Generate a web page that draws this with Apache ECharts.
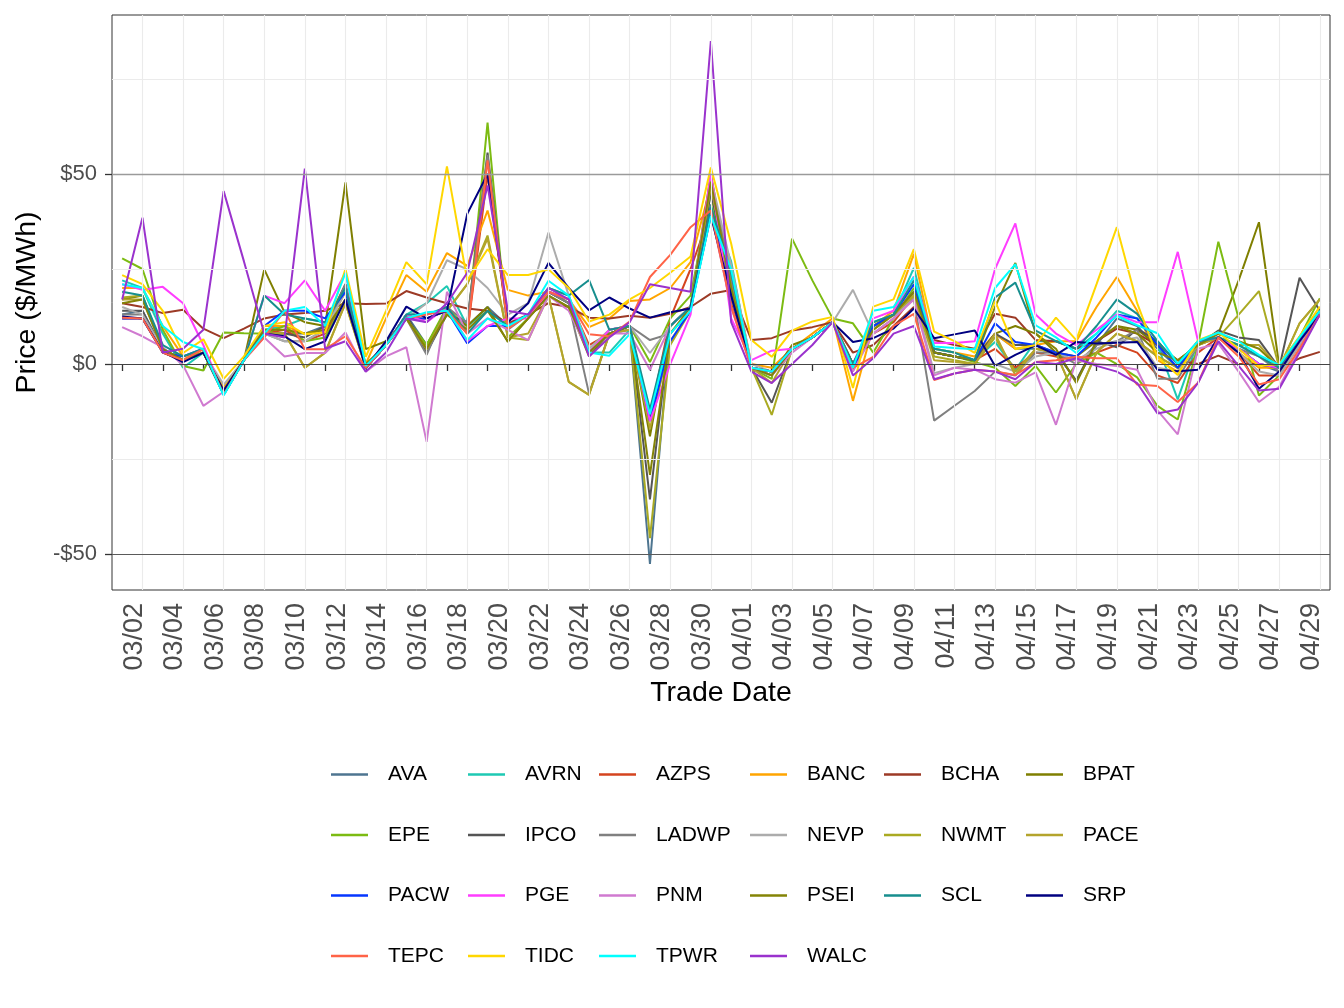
<!DOCTYPE html>
<html>
<head>
<meta charset="utf-8">
<title>Price by trade date</title>
<script src="https://cdn.jsdelivr.net/npm/echarts@6/dist/echarts.min.js"></script>
<style>
  html, body { margin: 0; padding: 0; background: #fff; }
  #chart { width: 1344px; height: 1008px; }
</style>
</head>
<body>
<div id="chart"></div>
<script>
// trade dates, one per day
const dates = [
  '03/02','03/03','03/04','03/05','03/06','03/07','03/08','03/09','03/10','03/11',
  '03/12','03/13','03/14','03/15','03/16','03/17','03/18','03/19','03/20','03/21',
  '03/22','03/23','03/24','03/25','03/26','03/27','03/28','03/29','03/30','03/31',
  '04/01','04/02','04/03','04/04','04/05','04/06','04/07','04/08','04/09','04/10',
  '04/11','04/12','04/13','04/14','04/15','04/16','04/17','04/18','04/19','04/20',
  '04/21','04/22','04/23','04/24','04/25','04/26','04/27','04/28','04/29','04/30'
];
const yTicks = [-50, 0, 50];
const yMinor = [-25, 25, 75];

// $/MWh by balancing authority
const AVA  = [13,14,4,1,3,-8,1,8,8,8, 10,19,-1,5,13,5,14,10,15,10, 13,19,16,3,8,9,-52.6,10,15,42, 20,-1,-3,4,7,11,0,10,13,19, 3,2,1,8,4,4,3,-4.4,5,12, 10,4,-1,6,7,4,0,-2,6,14];
const AVRN = [22,20,8,-1,3,-8,1,9,10,12, 11,20,-1,5,13,16,20.5,10,14,10, 13,20,18,3,3,9,-14,10,15,41.4, 27,-1,-2,4,7,11,0,11,13,25.3, 4,3,1,5.8,-1.5,6,6,4,8,14, 12,5,-9.3,6,7,5,2,-1,6,14];
const AZPS = [12,12,3,1,4,-8,1,8,9,6, 8,17,-1,5,12,12,14,8,50,10, 13,19,17,5,8,10,-14,12,25,40, 16,-1,-2,4,7,11,-1,8,11,18, 3,2,1,4,-1,3,2,1,3,5, 3,-3,-5,3,7,3,-3,-3,5,13];
const BANC = [20,20,10,2,3,-6,1,10,10,8, 9,19,0,12,23.4,19,29.2,25.8,40.4,19.5, 18,19,17,9.7,12,16.6,17,20,26.8,47, 25,0,-1,4,8,12,-9.7,10,14,29, 4,3,2,8,4,5,6,6,15,22.9, 14,1,-2,6,7,3,-1,-1,6,14];
const BCHA = [16,15,13.4,14.3,9.3,6.8,9.3,12,13,13.4, 14,16,15.8,15.9,19.2,17.5,16,14.6,14,10.7, 13,16,15,12.2,12,12.7,12.2,13.2,15,18.5, 19.5,6.3,6.8,8.8,9.7,11,3,5,10,15, 6.3,5,4,13.2,12.2,6.3,6,4,6,9.3, 8,5,1,0,2.2,0,0,-1,1.5,3.2];
const BPAT = [17,18,4,1,3,-7,1,24.9,13.6,11, 10,47.8,3.9,6,12,5,14,10,15,5.8, 12,18,15,2,8,10,-19,10,15,50, 20,-1,-3,5,7,11,0,10,13,18, 3,2,1,8,10,8,3,2,6,10, 9,5,1,5,8,22,37.3,-0.5,7,14];
const EPE  = [27.8,25,9,-0.5,-1.7,8.3,8.1,8,10,6, 7,17,-1,5,12,5,15,9,63.5,7, 12,19,16,3,8,10,0.5,12,18,45, 18,-1,-3.9,33,22,12,10.7,3,12,20, 3,2,0.5,-1,-5.8,-0.5,-7.5,0,3,0, -3.5,-11,-14.6,5,32.2,12,-8.3,-3,7,17.3];
const IPCO = [14,14,3,1,3,-8,1,8,8,7, 10,21,-1,5,13,3,13,11,55.6,10, 13,19,16,3,9,10,-35.6,10,15,45, 22,-1,-10.2,4,7,11,0,10,13,19, 3,2,1,8,5,5,3,-4.4,6,4.4, 9.3,6,0,5,8.8,7,6.3,-1,22.7,14];
const LADWP = [13,13,4,1,3,-7,1,8,6,6, 9,21,-1,5,12,2.4,15,10.7,55,9, 13,19,16,-7.8,8,10,6.3,8,14,49, 22,-1,-3,4,7,11,0,10,13,17, -14.9,-11,-7.1,-2,-3,3,3,0,5,6, 9,-3.9,-3.9,5,7,4,2,-2,6,14];
const NEVP = [15,13,4,1,3,-5.4,1,8,6,6, 9,19,-1,5,12,16,27.3,24.9,20,13, 16,34.6,18,4,9,10,2.9,10,15,49, 26,0,-2,4,7,11,19.5,8,12,18, -2.4,-1,0,0,-2,2,3,1,4,6, 7,-1,-2,5,7,3,-2,-3,5,14];
const NWMT = [17.5,18,4,1,3,-7,1,8,8,-1, 3,16,-1,5,12,3.9,14,21,33.8,7, 6.3,18,-4.7,-8.1,8,9,-45.8,5,14,47, 20,-1,-13.4,4,7,11,0,9,13,18, 2,1,0,7,-2,4,3,-9.3,3,8, 6,2,-1,5,7,13,19.2,-1,10.7,17];
const PACE = [17,17,4,1,3,-7,1,8,8,-1, 3,16,-1,5,12,3.9,14,21,33,7, 8,18,-4.7,-8.1,8,9,-17,6,14,47, 20,-1,-5,4,7,11,0,9,13,18, 1,0.5,0,8,-3,4,3,-9.3,3,8, 6,2,-1,5,7,5,5,-1,10.7,17];
const PACW = [12,12,3,2,4,-8,1,10,14,14, 12,19,-1,5,12,12,14,5.4,10,10, 13,19,17,3,8,10,-15,6,14,41, 18,-1,-2,4,7,11,-1,10,13,21, 3,2,1,10.7,5.8,5,3,2,7,13, 12,5,-1,6,7,4,0,-1,6,13];
const PGE  = [21,19.5,20.3,16,5,-8,1,18,16,22, 14,24,-1,5,13,11,15,6,10,12, 12,19,17,3,9,10,-15,0,13,50, 12,1,3.5,4,7,11,0,12,14,23, 5.5,5.5,6,25,37,13,8,5,9,13, 11,11,29.5,6,7,4,0,-1,6,13];
const PNM  = [9.7,7.3,4.4,-0.3,-11,-7.3,1,7,2,2.9, 2.9,8.3,-2,2,4.4,-20.5,19,8,12,9, 6.3,18,14,3,8,8,-1.5,10,15,40, 15,-1,-3,3,7,11,-2,8,12,17, -3,-1,-1.5,-4,-4.9,-2.2,-16,1,0,-0.5, -1.5,-12.2,-18.5,4,5.4,-2,-10,-6,4,13];
const PSEI = [16,17,4,1,3,-7,1,9,9,8, 9,17,0,5,12,4,13,9,14,6, 12,18,15,3,8,10,-29.2,8,15,48, 20,-1,-3,4,7,11,0,9,13,19, 3,2,1,15,26.6,8,4,-5,6,10, 8,3,1,5,8,6,4,-1,7,14];
const SCL  = [19,18,5,2,4,-8,1,18,13,12, 11,20,-1,5,13,13,15,8,14,10, 13,20,18,22.1,9,10,-12,10,15,41.4, 24,-1,-2,4,7,11,0,11,13,22, 4,3,1,17.5,21.4,8.8,6,4,10,17, 13.2,6,0,6,7,5,2,-1,7,14];
const SRP  = [12.5,12,3.2,0.5,3,-7,1,8,7.3,3.9, 6,17,-1,6,15.1,12,14,39.5,50,11, 16,26.6,20,14.1,17.5,14.6,12.2,13.6,14.6,39, 18,-1,-2,4,7,11,5.8,6.8,9.3,14.6, 6.8,7.8,8.8,-0.5,2.4,4.9,2.4,5.8,5.4,5.6, 5.8,-1.5,-1.9,-1.5,7,3,-6.5,-2,6,13];
const TEPC = [12.2,12,3,1,4,-8,1,7,14,3.9, 3.9,7.3,-1,5,12,13,14,8,53.6,9.3, 13,19,17,7.8,7.3,11.2,22.9,28.7,36,40.4, 15,-1,-2,4,7,11,-1,1.9,10,13.2, -4.2,-2.5,-1.5,-2,-2.9,0.5,1,1.9,1.5,1.5, -5.4,-5.8,-10,-4.9,7,2,-5.4,-4,4,13];
const TIDC = [23.4,21,14,2.9,6.5,-3.9,2,10,11,7.8, 8.3,25,1.9,14,26.8,21,52,22,30.2,23.4, 23.4,24.9,20,11.2,13,17,20,24,28.3,51.7, 31.7,6.3,1.9,8.8,11.2,12.4,-6.3,15.1,17,30.2, 8.5,6,2.9,16.6,3.9,5,12.2,6.3,21,36, 16,1.9,-2.9,6.3,8.3,4,-0.5,0,7.3,15.1];
const TPWR = [21,20,10,5.8,3.9,-8.3,1,8,14,15, 10,24,-0.5,5,12,13.6,14,6.3,12,10, 13,21.9,18,3,2.2,7.8,-13.2,8,14,39, 24.9,-1,-2,4,7,11,-1,14,15,22.9, 4.6,4.2,3.9,20,26.3,10.2,7,2.9,8,12.7, 10.2,8.1,0,6,8.3,6,2.4,-0.3,7,14];
const WALC = [17,38.5,3,4,9,45.5,27,8,7,51.4, 4,6,-2,3,12,11,16,24,47,14, 13,20,17,2,7,11,21,20,19,85, 11,-2,-5,0,5,11,-3,1.5,8,10, -4,-2.5,-1.5,-2,-4,0.5,0,1.5,-0.5,-2, -5,-13,-12,-5,6,-0.5,-7,-6.5,3,13];

const seriesData = {
  AVA, AVRN, AZPS, BANC, BCHA, BPAT, EPE, IPCO, LADWP, NEVP, NWMT,
  PACE, PACW, PGE, PNM, PSEI, SCL, SRP, TEPC, TIDC, TPWR, WALC
};
const colors = {
  AVA: '#4e7590', AVRN: '#1ec9b3', AZPS: '#d4441f', BANC: '#ffa500',
  BCHA: '#9c3a26', BPAT: '#7f7f00', EPE: '#7cbb12', IPCO: '#555555',
  LADWP: '#808080', NEVP: '#acacac', NWMT: '#aaaa22', PACE: '#b4a42c',
  PACW: '#0536ff', PGE: '#ff3dff', PNM: '#d07ad0', PSEI: '#848406',
  SCL: '#178e8e', SRP: '#000080', TEPC: '#ff6347', TIDC: '#ffd700',
  TPWR: '#00ffff', WALC: '#9a32cd'
};
// legend laid out in columns like the original
const legendCols = [
  { left: 326, names: ['AVA', 'EPE', 'PACW', 'TEPC'] },
  { left: 463, names: ['AVRN', 'IPCO', 'PGE', 'TIDC'] },
  { left: 594, names: ['AZPS', 'LADWP', 'PNM', 'TPWR'] },
  { left: 745, names: ['BANC', 'NEVP', 'PSEI', 'WALC'] },
  { left: 879, names: ['BCHA', 'NWMT', 'SCL'] },
  { left: 1021, names: ['BPAT', 'PACE', 'SRP'] }
];

const FONT = '"Liberation Sans", Arial, Helvetica, sans-serif';

// grid lines drawn as mark lines so they can sit at odd days / minor values
const gridLines = [];
dates.forEach((d, i) => {
  if (i % 2 === 1) gridLines.push({ xAxis: d, lineStyle: { color: '#ebebeb', width: 1.1, type: 'solid' } });
});
yMinor.forEach(v => gridLines.push({ yAxis: v, lineStyle: { color: '#ebebeb', width: 1.1, type: 'solid' } }));
yTicks.forEach(v => gridLines.push({
  yAxis: v,
  lineStyle: { color: v === 50 ? '#9a9a9a' : (v === 0 ? '#444444' : '#5a5a5a'), width: v === 50 ? 1.3 : 1, type: 'solid' }
}));

const series = [{
  name: '_grid',
  type: 'line',
  data: dates.map(() => null),
  silent: true,
  z: 1,
  markLine: {
    silent: true,
    symbol: ['none', 'none'],
    label: { show: false },
    emphasis: { disabled: true },
    data: gridLines
  }
}];
Object.keys(seriesData).forEach(name => {
  series.push({
    name: name,
    type: 'line',
    data: seriesData[name],
    showSymbol: false,
    symbol: 'none',
    color: colors[name],
    lineStyle: { width: 2, color: colors[name] },
    emphasis: { disabled: true },
    z: 2
  });
});

const chart = echarts.init(document.getElementById('chart'));
chart.setOption({
  animation: false,
  backgroundColor: '#ffffff',
  textStyle: { fontFamily: FONT },
  grid: {
    left: 112, right: 14, top: 15, bottom: 418,
    show: true, borderColor: '#333333', borderWidth: 1, backgroundColor: 'transparent'
  },
  xAxis: {
    type: 'category',
    data: dates,
    boundaryGap: true,
    name: 'Trade Date',
    nameLocation: 'middle',
    nameGap: 86,
    nameTextStyle: { fontSize: 28.5, color: '#000', fontFamily: FONT },
    axisLine: { show: false },
    axisTick: { show: true, interval: 1, alignWithLabel: true, length: 7, lineStyle: { color: '#333', width: 1.3 } },
    axisLabel: {
      interval: 1, rotate: 90, fontSize: 27, color: '#4d4d4d', margin: 13,
      verticalAlign: 'top', lineHeight: 24, fontFamily: FONT
    },
    splitLine: { show: false }
  },
  yAxis: {
    type: 'value',
    min: -59.47,
    max: 91.84,
    name: 'Price ($/MWh)',
    nameLocation: 'middle',
    nameGap: 64,
    nameTextStyle: { fontSize: 28.5, color: '#000', fontFamily: FONT },
    axisLine: { show: false },
    axisTick: { show: true, customValues: yTicks, length: 7, lineStyle: { color: '#333', width: 1.3 } },
    axisLabel: {
      customValues: yTicks, fontSize: 22, color: '#4d4d4d', margin: 15, fontFamily: FONT,
      formatter: v => (v < 0 ? '-$' + Math.abs(v) : '$' + v)
    },
    splitLine: { show: false }
  },
  legend: legendCols.map(col => ({
    orient: 'vertical',
    left: col.left,
    top: 759,
    itemGap: 39.5,
    itemWidth: 37,
    itemHeight: 2.5,
    icon: 'rect',
    selectedMode: false,
    data: col.names,
    textStyle: { fontSize: 21, color: '#000', lineHeight: 20, padding: [0, 0, 0, 15], fontFamily: FONT }
  })),
  series: series
});
</script>
</body>
</html>
